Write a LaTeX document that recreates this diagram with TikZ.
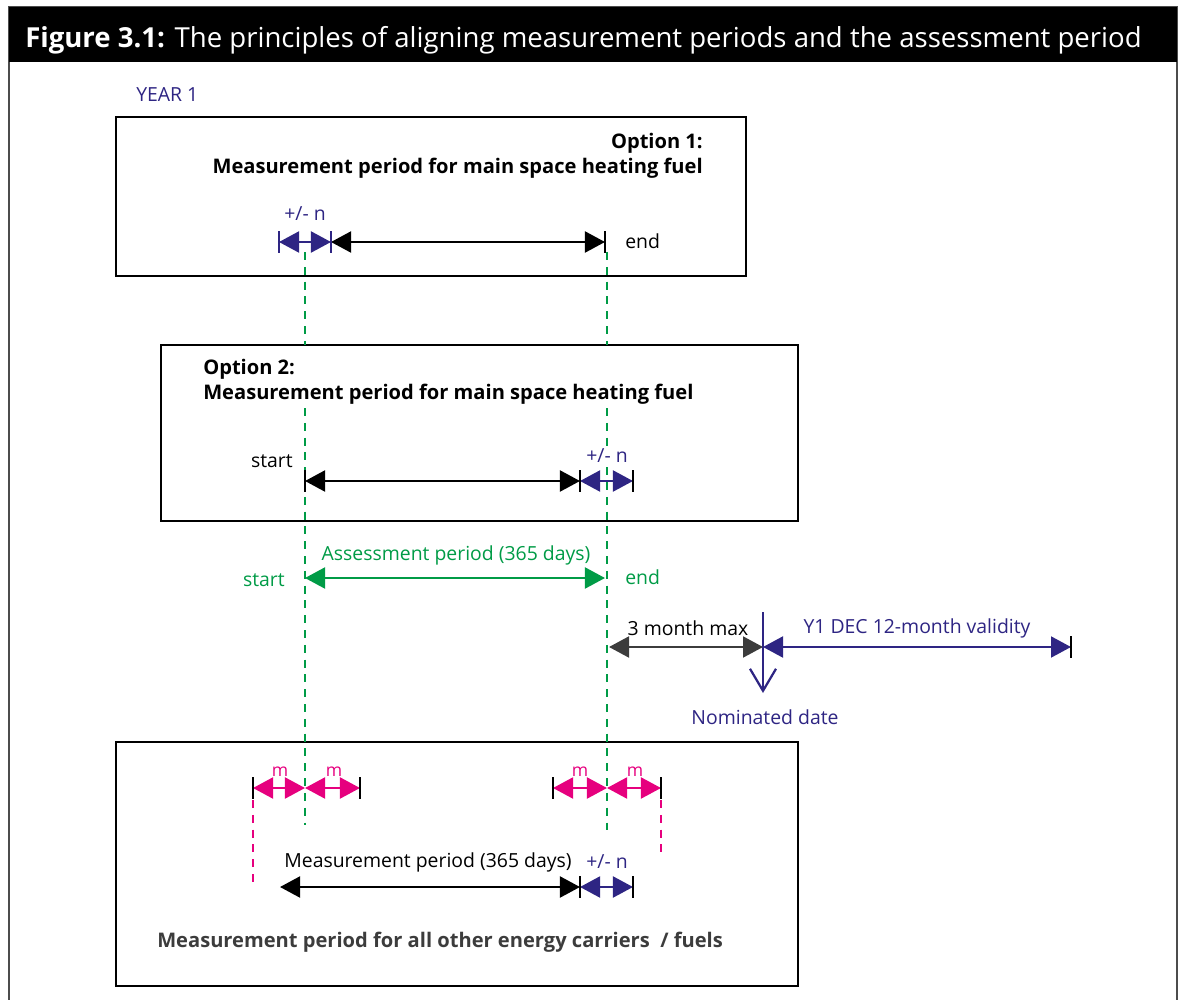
\documentclass[tikz,border=0pt]{standalone}
\usepackage{fontspec}
\setmainfont{Open Sans}
\usetikzlibrary{arrows.meta}

\definecolor{yearblue}{RGB}{46,37,131}
\definecolor{assessgreen}{RGB}{0,155,70}
\definecolor{mpink}{RGB}{230,0,126}
\definecolor{darkgrey}{RGB}{60,60,60}

\begin{document}
\begin{tikzpicture}[x=0.025cm, y=-0.025cm]
\tikzstyle{box} = [draw=black, line width=1.6pt]
\tikzstyle{txt} = [font=\fontsize{13.8}{16}\selectfont, inner sep=0pt]
\tikzstyle{heading} = [font=\fontsize{14.3}{17}\selectfont\bfseries, inner sep=0pt]
\tikzstyle{period} = [line width=1.9pt, {Triangle[length=0.5cm,width=0.52cm]}-{Triangle[length=0.5cm,width=0.52cm]}]
\tikzstyle{tick} = [line width=1.6pt]
\tikzstyle{guide} = [assessgreen, line width=1.4pt, dash pattern=on 0.2cm off 0.17cm]
\tikzstyle{mguide} = [mpink, line width=1.4pt, dash pattern=on 0.2cm off 0.17cm]

\useasboundingbox (0,0) rectangle (1180,1000);

% frame and title
\draw[line width=0.8pt, black!70] (9,1000) -- (9,7) -- (1177,7) -- (1177,1000);
\fill[black] (9,7) rectangle (1177,62);
\node[anchor=base west, text=white, font=\fontsize{19.6}{23}\selectfont, inner sep=0pt] (Title) at (25,47)
  {\textbf{Figure 3.1:} The principles of aligning measurement periods and the assessment period};

\node[txt, text=yearblue, anchor=west] (Year) at (136,95) {YEAR 1};

% the three boxes
\draw[box] (116,117) rectangle (746,276);
\node[heading, anchor=base east] (OptOne) at (703,148) {Option 1:};
\node[heading, anchor=base east] (OptOneText) at (703,173) {Measurement period for main space heating fuel};

\draw[box] (161,345) rectangle (798,521);
\node[heading, anchor=base west] (OptTwo) at (203,374) {Option 2:};
\node[heading, anchor=base west] (OptTwoText) at (203,399) {Measurement period for main space heating fuel};

\draw[box] (116,742) rectangle (798,986);
\node[heading, text=darkgrey, anchor=base west] (Others) at (157,947) {Measurement period for all other energy carriers~~/ fuels};

% green guide lines
\coordinate (GuideL1) at (305,252);
\coordinate (GuideL2) at (305,345);
\coordinate (GuideL3) at (305,408);
\coordinate (GuideL4) at (305,825);
\coordinate (GuideR1) at (607,252);
\coordinate (GuideR2) at (607,345);
\coordinate (GuideR3) at (607,408);
\coordinate (GuideR4) at (607,830);
\draw[guide] (GuideL1) -- (GuideL2) (GuideL3) -- (GuideL4);
\draw[guide] (GuideR1) -- (GuideR2) (GuideR3) -- (GuideR4);

% option 1
\coordinate (OneL) at (279,242);
\coordinate (OneS) at (331,242);
\coordinate (OneE) at (605,242);
\draw[period, yearblue] (OneL) -- (OneS);
\draw[period] (OneS) -- (OneE);
\draw[tick, yearblue] (OneL) ++(0,-11) -- ++(0,22);
\draw[tick, yearblue] (OneS) ++(0,-11) -- ++(0,22);
\draw[tick] (OneE) ++(0,-11) -- ++(0,22);
\node[txt, text=yearblue] (OneN) at (305,214) {+/- n};
\node[txt, anchor=west] (OneEnd) at (625,241) {end};

% option 2
\coordinate (TwoS) at (305,481);
\coordinate (TwoE) at (580,481);
\coordinate (TwoN) at (633,481);
\draw[period] (TwoS) -- (TwoE);
\draw[period, yearblue] (TwoE) -- (TwoN);
\draw[tick] (TwoS) ++(0,-11) -- ++(0,22);
\draw[tick] (TwoE) ++(0,-11) -- ++(0,22);
\draw[tick] (TwoN) ++(0,-11) -- ++(0,22);
\node[txt, anchor=east] (TwoStart) at (293,461) {start};
\node[txt, text=yearblue, fill=white, inner sep=1pt] (TwoNLabel) at (607,456) {+/- n};

% assessment period
\coordinate (AssS) at (305,578);
\coordinate (AssE) at (605,578);
\draw[period, assessgreen] (AssS) -- (AssE);
\node[txt, text=assessgreen] (AssLabel) at (456,555) {Assessment period (365 days)};
\node[txt, text=assessgreen, anchor=east] (AssStart) at (285,580) {start};
\node[txt, text=assessgreen, anchor=west] (AssEnd) at (625,577) {end};

% nominated date and validity
\coordinate (MaxS) at (609,647);
\coordinate (Nom) at (763,647);
\coordinate (ValE) at (1071,647);
\coordinate (NomTop) at (763,612);
\coordinate (NomTip) at (763,693);
\draw[period, darkgrey] (MaxS) -- (Nom);
\draw[period, yearblue] (Nom) -- (ValE);
\draw[tick] (ValE) ++(0,-11) -- ++(0,22);
\draw[yearblue, line width=1.6pt, -{Straight Barb[length=0.55cm,width=0.65cm]}] (NomTop) -- (NomTip);
\node[txt] (MaxLabel) at (688,628) {3 month max};
\node[txt, text=yearblue] (ValLabel) at (917,628) {Y1 DEC 12-month validity};
\node[txt, text=yearblue] (NomDate) at (765,717) {Nominated date};

% other carriers: m margins
\coordinate (ML1) at (253,788);
\coordinate (MM1) at (305,788);
\coordinate (MR1) at (360,788);
\coordinate (ML2) at (553,788);
\coordinate (MM2) at (607,788);
\coordinate (MR2) at (661,788);
\draw[period, mpink] (ML1) -- (MM1);
\draw[period, mpink] (MM1) -- (MR1);
\draw[period, mpink] (ML2) -- (MM2);
\draw[period, mpink] (MM2) -- (MR2);
\foreach \p in {ML1,MR1,ML2,MR2}
  \draw[tick] (\p) ++(0,-11) -- ++(0,22);
\node[txt, text=mpink, font=\fontsize{12.5}{14}\selectfont] (MA) at (280,772) {m};
\node[txt, text=mpink, font=\fontsize{12.5}{14}\selectfont] (MB) at (334,772) {m};
\node[txt, text=mpink, font=\fontsize{12.5}{14}\selectfont] (MC) at (580,772) {m};
\node[txt, text=mpink, font=\fontsize{12.5}{14}\selectfont] (MD) at (635,772) {m};
\coordinate (PinkL1) at (253,800);
\coordinate (PinkL2) at (253,887);
\coordinate (PinkR1) at (661,800);
\coordinate (PinkR2) at (661,852);
\draw[mguide] (PinkL1) -- (PinkL2);
\draw[mguide] (PinkR1) -- (PinkR2);

% other carriers: measurement period
\coordinate (MpS) at (280,887);
\coordinate (MpE) at (580,887);
\coordinate (MpN) at (633,887);
\draw[period] (MpS) -- (MpE);
\draw[period, yearblue] (MpE) -- (MpN);
\draw[tick] (MpE) ++(0,-11) -- ++(0,22);
\draw[tick] (MpN) ++(0,-11) -- ++(0,22);
\node[txt] (MpLabel) at (428,862) {Measurement period (365 days)};
\node[txt, text=yearblue] (MpNLabel) at (607,862) {+/- n};

\end{tikzpicture}
\end{document}
